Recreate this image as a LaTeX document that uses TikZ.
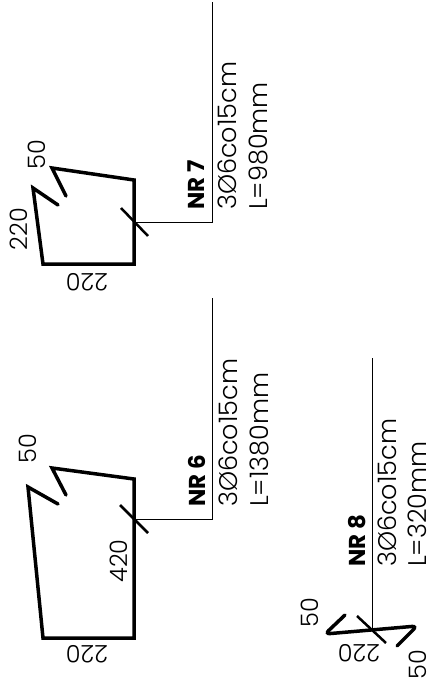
\documentclass[tikz,border=0pt]{standalone}
\usepackage{fontspec}
\setmainfont{Poppins}[UprightFont=* Light,BoldFont=* Bold]
\begin{document}
\begin{tikzpicture}[x=1pt,y=-1pt,
  bar/.style={line width=3.5pt,line cap=round,line join=miter},
  tick/.style={line width=2.5pt,line cap=butt},
  leader/.style={line width=0.7pt,line join=miter},
  lab/.style={inner sep=0pt,font=\fontsize{24}{24}\selectfont},
  vlab/.style={inner sep=0pt,rotate=90,anchor=west,font=\fontsize{25.5}{26}\selectfont},
  nr/.style={inner sep=0pt,rotate=90,anchor=west,font=\fontsize{23}{23}\selectfont\bfseries}]
\useasboundingbox (0,0) rectangle (439,699);
% NR 6
\draw[bar] (58,504) -- (28,487) -- (43,638) -- (134,638) -- (134,479) -- (52,468) -- (66,495);
\coordinate (j6) at (134,519);
\coordinate (t6a) at (120,505);
\coordinate (t6b) at (148,533);
\coordinate (e6) at (212,519);
\coordinate (f6) at (212,298);
\draw[tick] (t6a) -- (t6b);
\draw[leader] (j6) -- (e6) -- (f6);
\node[lab,rotate=90] (a6) at (28,449) {50};
\node[lab,rotate=90] (b6) at (119,561) {420};
\node[lab,rotate=180] (c6) at (87,654) {220};
\node[nr] (n6) at (197,507) {NR 6};
\node[vlab] (d6) at (228,507) {3Ø6co15cm};
\node[vlab] (l6) at (259,507) {L=1380mm};
% NR 7
\draw[bar] (58,205) -- (33,188) -- (43,264) -- (134,264) -- (134,180) -- (52,168) -- (66,196);
\coordinate (j7) at (134,222);
\coordinate (t7a) at (121,208);
\coordinate (t7b) at (148,236);
\coordinate (e7) at (212,222);
\coordinate (f7) at (212,2);
\draw[tick] (t7a) -- (t7b);
\draw[leader] (j7) -- (e7) -- (f7);
\node[lab,rotate=90] (a7) at (37,155) {50};
\node[lab,rotate=90] (b7) at (19,229) {220};
\node[lab,rotate=180] (c7) at (87,282) {220};
\node[nr] (n7) at (196,210) {NR 7};
\node[vlab] (d7) at (227,210) {3Ø6co15cm};
\node[vlab] (l7) at (258,210) {L=980mm};
% NR 8
\draw[bar,rounded corners=5pt] (345,615) -- (325,634) -- (417,626) -- (397,646);
\coordinate (j8) at (372,629);
\coordinate (t8a) at (357,616);
\coordinate (t8b) at (386,643);
\coordinate (f8) at (372,358);
\draw[tick] (t8a) -- (t8b);
\draw[leader] (j8) -- (f8);
\node[lab,rotate=90] (a8) at (310,613) {50};
\node[lab,rotate=180] (b8) at (359,653) {220};
\node[lab,rotate=90] (c8) at (418,665) {50};
\node[nr] (n8) at (357,567) {NR 8};
\node[vlab] (d8) at (387,567) {3Ø6co15cm};
\node[vlab] (l8) at (417,567) {L=320mm};
\end{tikzpicture}
\end{document}
